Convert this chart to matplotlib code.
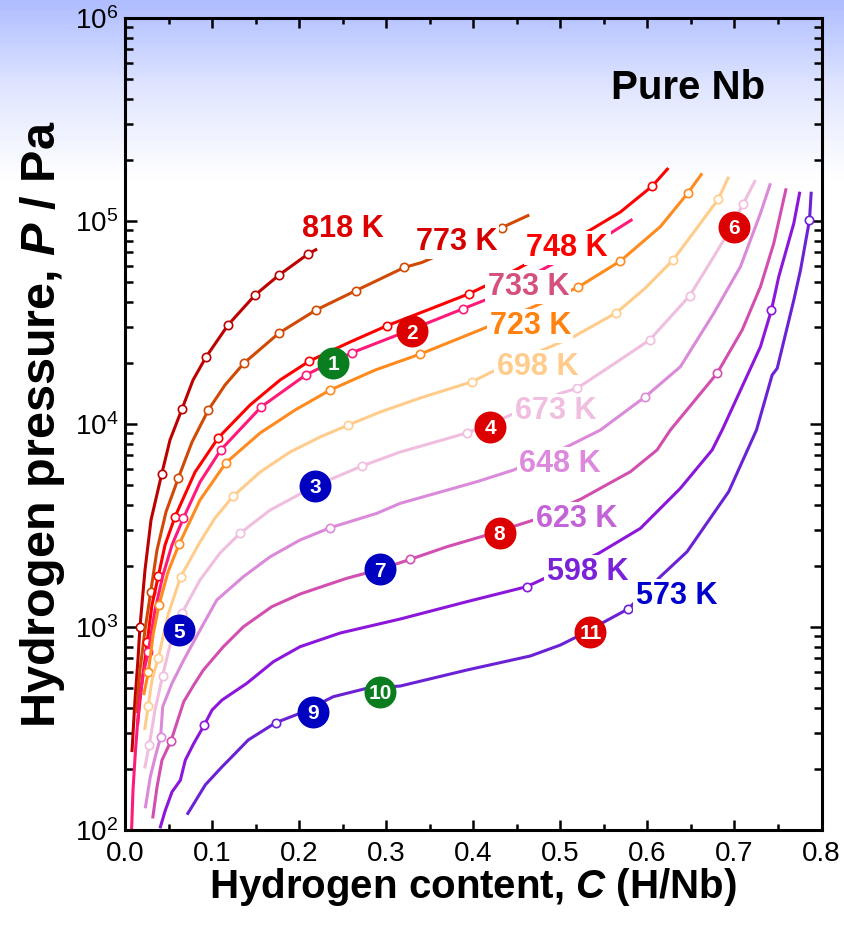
import numpy as np
import matplotlib
matplotlib.use('Agg')
import matplotlib.pyplot as plt
from matplotlib.colors import LinearSegmentedColormap
from matplotlib.ticker import MultipleLocator, LogLocator, FuncFormatter, NullFormatter, FormatStrFormatter

plt.rcParams['font.family'] = ['Liberation Sans', 'DejaVu Sans']
plt.rcParams['mathtext.fontset'] = 'custom'
plt.rcParams['mathtext.rm'] = 'Liberation Sans'
plt.rcParams['mathtext.it'] = 'Liberation Sans:italic:bold'
plt.rcParams['mathtext.bf'] = 'Liberation Sans:bold'

# Isotherms: hydrogen content C (H/Nb) vs. pressure P (Pa); mk_* = measured points
c_818 = [0.008, 0.0115, 0.0149, 0.0172, 0.023, 0.0299, 0.0422, 0.0517, 0.0655, 0.0782,
         0.0931, 0.1184, 0.1494, 0.1770, 0.2103, 0.2207]
p_818 = [242, 437, 688, 1000, 1909, 3365, 5673, 8340, 11860, 16480,
         21380, 30760, 43170, 54200, 68770, 72780]
mk_818 = [3, 6, 8, 10, 11, 12, 13, 14]

c_773 = [0.0132, 0.0172, 0.023, 0.0295, 0.0368, 0.0471, 0.0613, 0.0770, 0.0957, 0.1149,
         0.1368, 0.1770, 0.2195, 0.2655, 0.3207, 0.3410, 0.4330, 0.4644]
p_773 = [377, 614, 966, 1487, 2395, 3686, 5420, 8150, 11720, 15560,
         19970, 28070, 36450, 45460, 59020, 62470, 92860, 107100]
mk_773 = [3, 6, 8, 10, 11, 12, 13, 14, 16]

c_748 = [0.0144, 0.0184, 0.0256, 0.0310, 0.0383, 0.0460, 0.0575, 0.0805, 0.1072, 0.1437,
         0.1782, 0.2118, 0.2586, 0.3008, 0.3506, 0.3954, 0.4138, 0.5345, 0.5690, 0.6057, 0.6241]
p_748 = [329, 489, 846, 1283, 1783, 2535, 3494, 5800, 8560, 12410,
         16480, 20420, 25350, 30480, 36870, 43850, 47860, 90300, 110700, 148700, 182400]
mk_748 = [2, 4, 6, 8, 11, 13, 15, 19]

c_733 = [0.0075, 0.0092, 0.0121, 0.0161, 0.0207, 0.0268, 0.0345, 0.0437, 0.0540, 0.0670,
         0.0862, 0.1100, 0.1567, 0.2080, 0.2606, 0.3218, 0.3877, 0.4138, 0.5575, 0.5828]
p_733 = [98, 157, 248, 413, 580, 756, 1213, 1804, 2535, 3430,
         5180, 7450, 12170, 17490, 22440, 28400, 36870, 40830, 86960, 101900]
mk_733 = [5, 9, 11, 12, 13, 14, 16]

c_723 = [0.0215, 0.0268, 0.0322, 0.0391, 0.0494, 0.0621, 0.0862, 0.1161, 0.1552, 0.1954,
         0.2356, 0.2874, 0.3383, 0.3793, 0.4161, 0.5201, 0.5690, 0.6149, 0.6468, 0.6629]
p_723 = [462, 598, 913, 1283, 1866, 2555, 4225, 6450, 9030, 11720,
         14700, 18450, 22040, 25940, 30060, 47100, 63530, 93750, 137800, 171800]
mk_723 = [1, 3, 5, 7, 10, 12, 15, 16, 18]

c_698 = [0.0226, 0.0268, 0.0310, 0.0383, 0.0494, 0.0640, 0.0862, 0.1034, 0.1245, 0.1552,
         0.1897, 0.2241, 0.2567, 0.2931, 0.3391, 0.3985, 0.4195, 0.5153, 0.5644, 0.5977,
         0.6295, 0.6552, 0.6813, 0.6934]
p_698 = [311, 410, 548, 706, 1146, 1770, 2623, 3443, 4418, 5800,
         7280, 8630, 9890, 11460, 13430, 16150, 17900, 26920, 35320, 46770,
         64270, 90300, 127900, 165300]
mk_698 = [1, 3, 5, 8, 12, 15, 18, 20, 22]

c_673 = [0.0226, 0.0279, 0.0345, 0.0433, 0.0517, 0.0655, 0.0862, 0.1092, 0.1322, 0.1667,
         0.2184, 0.2721, 0.3161, 0.3563, 0.3934, 0.4195, 0.5000, 0.5192, 0.5632, 0.6026,
         0.6486, 0.6762, 0.6877, 0.7100, 0.7241]
p_673 = [201, 262, 390, 577, 815, 1172, 1706, 2316, 2897, 3767,
         4955, 6209, 7280, 8150, 9060, 10000, 14170, 14990, 19980, 25940,
         42850, 66680, 80560, 121300, 159200]
mk_673 = [1, 3, 5, 8, 11, 14, 17, 19, 20, 23]

c_648 = [0.0233, 0.0291, 0.0348, 0.0410, 0.0433, 0.0540, 0.0675, 0.0862, 0.1054, 0.1360,
         0.1667, 0.2011, 0.2356, 0.2893, 0.3161, 0.4043, 0.4463, 0.5077, 0.5460, 0.5977,
         0.6379, 0.6762, 0.7069, 0.7299, 0.7414]
p_648 = [128, 183, 230, 288, 405, 528, 688, 966, 1358, 1770,
         2218, 2683, 3084, 3631, 4066, 5200, 5934, 7730, 9340, 13630,
         19150, 35090, 59570, 109100, 153400]
mk_648 = [3, 12, 19]

c_623 = [0.0318, 0.0368, 0.0425, 0.0529, 0.0675, 0.0790, 0.0900, 0.1130, 0.1360, 0.1686,
         0.2011, 0.2318, 0.2548, 0.2931, 0.3276, 0.3698, 0.4118, 0.4693, 0.5230, 0.5805,
         0.6111, 0.6264, 0.6801, 0.7089, 0.7299, 0.7452, 0.7594]
p_623 = [114, 163, 221, 275, 429, 518, 614, 800, 1003, 1259,
         1454, 1611, 1738, 1924, 2155, 2486, 2807, 3365, 4256, 5821,
         7450, 9340, 17780, 29040, 47470, 77630, 144900]
mk_623 = [3, 14, 22]

c_598 = [0.0402, 0.0463, 0.0540, 0.0636, 0.0693, 0.0790, 0.0911, 0.1000, 0.1115, 0.1399,
         0.1705, 0.2011, 0.2471, 0.3161, 0.3927, 0.4613, 0.5440, 0.5920, 0.6379, 0.6744,
         0.6859, 0.7299, 0.7425, 0.7509, 0.7682, 0.7751]
p_598 = [102, 125, 154, 176, 221, 267, 329, 390, 437, 528,
         675, 800, 934, 1095, 1333, 1580, 2306, 3062, 4822, 7450,
         9340, 24040, 36450, 53170, 97460, 139400]
mk_598 = [6, 15, 22]

c_573 = [0.0713, 0.0923, 0.1115, 0.1230, 0.1417, 0.1732, 0.2011, 0.2394, 0.2778, 0.3161,
         0.3927, 0.4655, 0.5000, 0.5230, 0.5460, 0.5778, 0.6149, 0.6456, 0.6934, 0.7253,
         0.7433, 0.7491, 0.7682, 0.7759, 0.7862, 0.7882]
p_573 = [119, 167, 205, 230, 278, 338, 376, 454, 499, 512,
         614, 720, 815, 913, 1035, 1227, 1770, 2350, 4643, 9340,
         17430, 18800, 40830, 57370, 101100, 139400]
mk_573 = [5, 15, 24]

temps = [818, 773, 748, 733, 723, 698, 673, 648, 623, 598, 573]
curves_c = [c_818, c_773, c_748, c_733, c_723, c_698, c_673, c_648, c_623, c_598, c_573]
curves_p = [p_818, p_773, p_748, p_733, p_723, p_698, p_673, p_648, p_623, p_598, p_573]
curves_mk = [mk_818, mk_773, mk_748, mk_733, mk_723, mk_698, mk_673, mk_648, mk_623, mk_598, mk_573]

# temperature tags
label_c = [0.2506, 0.3805, 0.5080, 0.4632, 0.4655, 0.4736, 0.4943, 0.5000, 0.5184, 0.5310, 0.6333]
label_p = [91400, 78830, 73600, 47300, 30400, 19100, 11590, 6355, 3405, 1866, 1421]

# numbered sample points
bubble_no = [1, 2, 3, 4, 5, 6, 7, 8, 9, 10, 11]
bubble_c = [0.2394, 0.3299, 0.2184, 0.4195, 0.0625, 0.6993, 0.2931, 0.4303, 0.2165, 0.2931, 0.5345]
bubble_p = [20050, 28700, 4955, 9700, 966, 93750, 1924, 2916, 382, 480, 948]

line_colors = ['#bd0000', '#d04a06', '#ff0000', '#ff1a7a', '#ff8a1e', '#ffcc8c',
               '#f0bedf', '#da8ad9', '#d24fb0', '#8c16da', '#6a22d4']
label_colors = ['#dd0000', '#d60000', '#ff0000', '#d4507e', '#ff8210', '#ffcc8c',
                '#f0bedf', '#dd8ade', '#c462d8', '#7a22d8', '#0000cc']
bubble_colors = ['#0a7d1e', '#dd0000', '#0000c0', '#dd0000', '#0000c0', '#dd0000',
                 '#0000c0', '#dd0000', '#0000c0', '#0a7d1e', '#dd0000']

fig = plt.figure(figsize=(8.45, 9.27), dpi=100)

# pale blue wash at the top of the figure
bg = fig.add_axes([0, 0, 1, 1], zorder=-10)
wash = LinearSegmentedColormap.from_list(
    'wash', [(0.0, '#b0beff'), (0.09, '#dfe5ff'), (0.19, '#ffffff'), (1.0, '#ffffff')])
bg.imshow(np.linspace(0, 1, 400)[:, None], cmap=wash, aspect='auto', extent=(0, 1, 0, 1))
bg.set_axis_off()

ax = fig.add_axes([0.1479, 0.1046, 0.8243, 0.8760])
ax.patch.set_alpha(0)
ax.set_yscale('log')
ax.set_xlim(0, 0.8)
ax.set_ylim(1e2, 1e6)

for c, p, mk, col in zip(curves_c, curves_p, curves_mk, line_colors):
    ax.plot(c, p, color=col, lw=2.2, solid_joinstyle='round', solid_capstyle='butt',
            marker='o', markevery=mk, ms=6, mfc='white', mec=col, mew=1.2, zorder=2)

for t, c, p, col in zip(temps, label_c, label_p, label_colors):
    ax.text(c, p, f'{t} K', color=col, fontsize=22, fontweight='bold',
            ha='center', va='center', zorder=4,
            bbox=dict(boxstyle='square,pad=0.08', fc='white', ec='none'))

for n, c, p, col in zip(bubble_no, bubble_c, bubble_p, bubble_colors):
    ax.plot(c, p, 'o', ms=23, mfc=col, mec='none', zorder=5)
    ax.text(c, p, str(n), color='white', fontsize=15, fontweight='bold',
            ha='center', va='center_baseline', zorder=6)

ax.text(0.808, 0.914, 'Pure Nb', transform=ax.transAxes, fontsize=29,
        fontweight='bold', ha='center', va='center')

# axes and ticks
ax.xaxis.set_major_locator(MultipleLocator(0.1))
ax.xaxis.set_minor_locator(MultipleLocator(0.05))
ax.xaxis.set_major_formatter(FormatStrFormatter('%.1f'))
ax.yaxis.set_major_locator(LogLocator(base=10, numticks=10))
ax.yaxis.set_minor_locator(LogLocator(base=10, subs=np.arange(2, 10), numticks=10))
ax.yaxis.set_major_formatter(FuncFormatter(lambda v, pos: r'$\mathregular{10^{%d}}$' % round(np.log10(v))))
ax.yaxis.set_minor_formatter(NullFormatter())

ax.tick_params(which='both', direction='in', top=True, right=True, width=1.8, labelsize=20)
ax.tick_params(axis='x', which='major', length=7.5, pad=8)
ax.tick_params(axis='x', which='minor', length=4)
ax.tick_params(axis='y', which='major', length=8.5, pad=5)
ax.tick_params(axis='y', which='minor', length=5.5)
for s in ax.spines.values():
    s.set_linewidth(2.2)

ax.set_xlabel(r'Hydrogen content, $C$ (H/Nb)', fontsize=29, fontweight='bold')
ax.set_ylabel(r'Hydrogen pressure, $P$ / Pa', fontsize=35, fontweight='bold')
ax.xaxis.set_label_coords(0.5, -0.044)
ax.yaxis.set_label_coords(-0.083, 0.5)

fig.savefig('out.png', dpi=100)
